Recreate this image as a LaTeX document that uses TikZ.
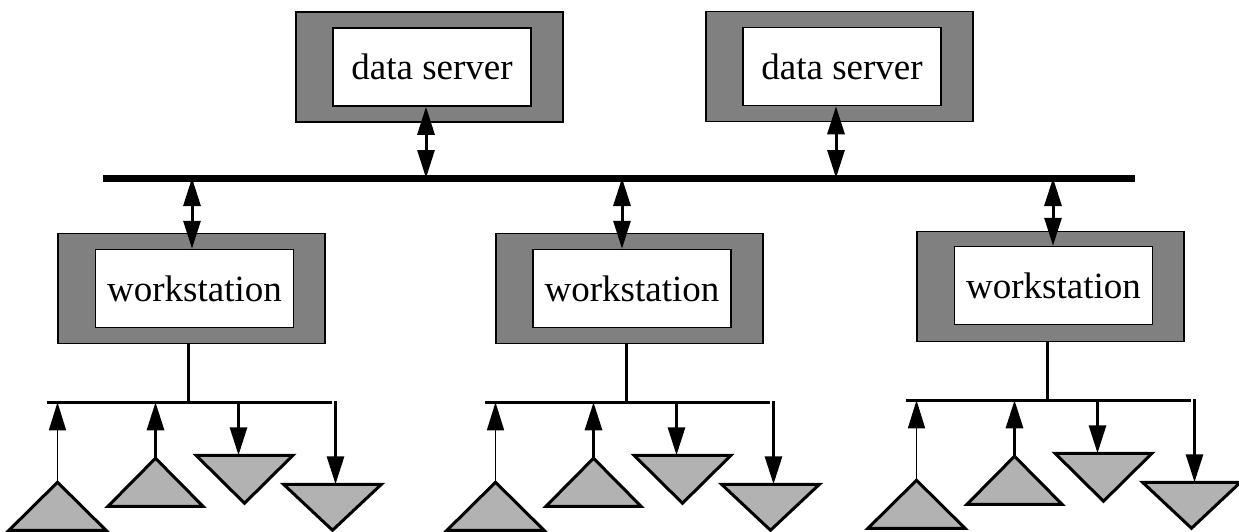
\documentclass[tikz,border=0pt]{standalone}
\usepackage{fontspec}
\setmainfont{Liberation Serif}
\usetikzlibrary{arrows.meta,calc,positioning}

\tikzset{
  outbox/.style={draw,line width=1.5pt,fill=black!50,minimum width=267pt,minimum height=110pt,inner sep=0pt},
  inbox/.style={draw,line width=1.5pt,fill=white,minimum width=198pt,minimum height=78pt,inner sep=0pt,font=\fontsize{37}{44}\selectfont},
  bus/.style={line width=7pt},
  wire/.style={line width=3pt},
  link/.style={line width=3pt,{Triangle[length=28pt,width=17pt]}-{Triangle[length=28pt,width=17pt]}},
  tip/.style={-{Triangle[length=28pt,width=17pt]}},
  tri/.style={draw,line width=3pt,fill=black!30,line join=miter},
}

\begin{document}
\begin{tikzpicture}[x=1pt,y=-1pt]
\useasboundingbox (0,0) rectangle (1239,531);

\node[outbox] (ds1) at (429.5,67) {};
\node[inbox] (ds1in) at ([xshift=2.5pt]ds1.center) {data server};
\node[outbox] (ds2) at (839.5,66.5) {};
\node[inbox] (ds2in) at ([xshift=2.5pt]ds2.center) {data server};

\node[outbox] (ws1) at (191.5,288.5) {};
\node[inbox] (ws1in) at ([xshift=3pt]ws1.center) {workstation};
\node[outbox] (ws2) at (629.5,288.5) {};
\node[inbox] (ws2in) at ([xshift=2.5pt]ws2.center) {workstation};
\node[outbox] (ws3) at (1050.5,286.5) {};
\node[inbox] (ws3in) at ([xshift=3pt,yshift=1pt]ws3.center) {workstation};

\coordinate (busL) at (103,178);
\coordinate (busR) at (1135,178);

\coordinate (lk1) at ($(ds1in.south)+(-6,0)$);
\coordinate (lk2) at ($(ds2in.south)+(-6,0)$);
\coordinate (lk3) at ($(ws1in.north)+(-2.5,0)$);
\coordinate (lk4) at ($(ws2in.north)+(-10,0)$);
\coordinate (lk5) at ($(ws3in.north)+(-0.5,0)$);
\foreach \k in {1,...,5}
  \draw[link] (lk\k) -- (lk\k |- busL);

\draw[bus] (busL) -- (busR);

\foreach \w in {1,2,3}{
  \coordinate (hub\w) at ($(ws\w.south)+(-3,58)$);
  \draw[wire] (hub\w |- ws\w.south) -- (hub\w);
  \begin{scope}[shift={(hub\w)}]
    \draw[wire] (-142,0) -- (143,0);
    \draw[tri] (-131,80) coordinate (ua\w) -- ++(48.5,48) -- ++(-97,0) -- cycle;
    \draw[tri] (-33,56) coordinate (ub\w) -- ++(47.5,48) -- ++(-95,0) -- cycle;
    \draw[tri] (7.5,53) -- (104.5,53) -- (56,101) -- cycle;
    \draw[tri] (95,82) -- (193,82) -- (144,128) -- cycle;
    \coordinate (dc\w) at (50,53);
    \coordinate (dd\w) at (147,82);
    \draw[line width=1.5pt,tip] (ua\w) -- (ua\w |- hub\w);
    \draw[wire,tip] (ub\w) -- (ub\w |- hub\w);
    \draw[wire,tip] (dc\w |- hub\w) -- (dc\w);
    \draw[wire,tip] ($(dd\w |- hub\w)+(0,-1)$) -- (dd\w);
  \end{scope}
}
\end{tikzpicture}
\end{document}
